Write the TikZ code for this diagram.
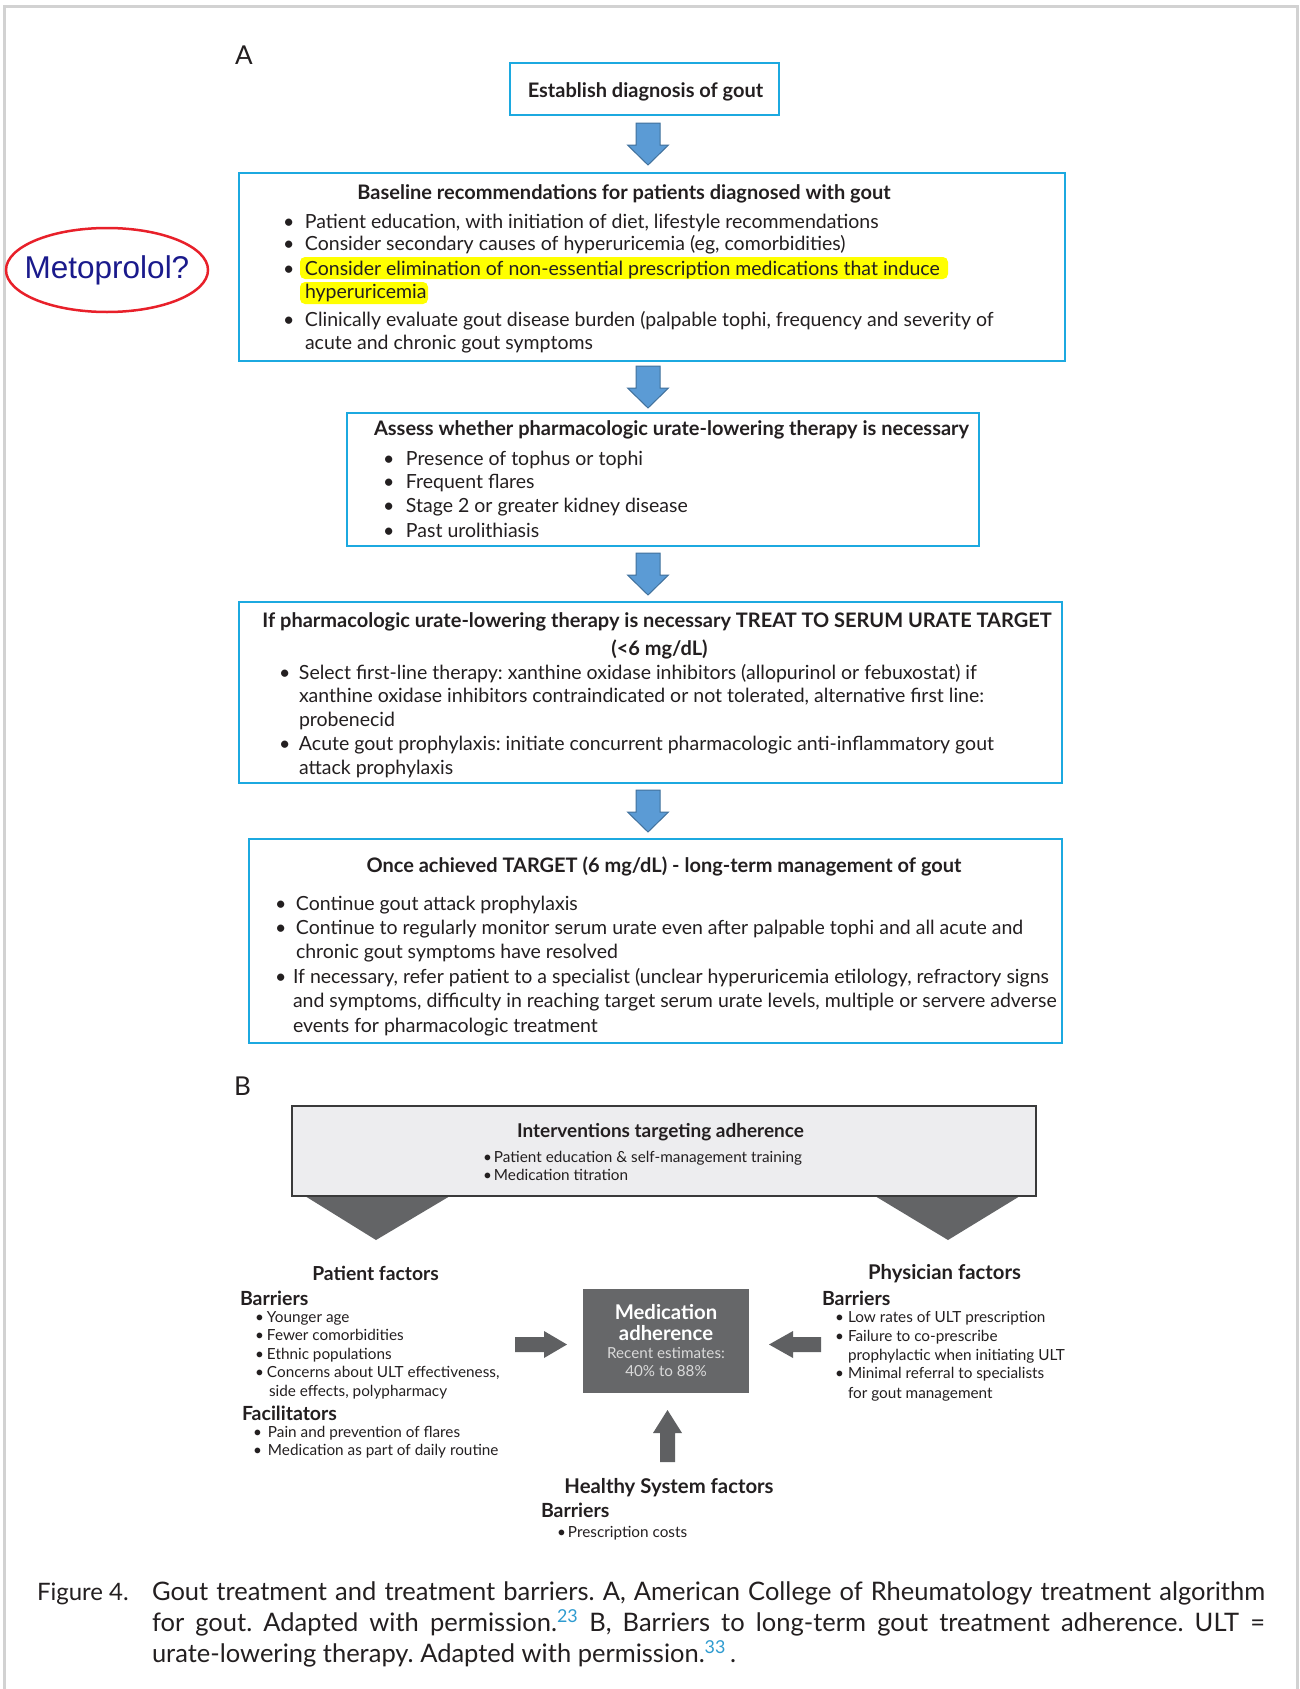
\documentclass[tikz,border=0pt]{standalone}
\usepackage{fontspec}
\setmainfont{Lato}
\newfontfamily\arialfont{Liberation Sans}
\usetikzlibrary{calc,shapes.geometric}
\definecolor{boxblue}{HTML}{1CA9E0}
\definecolor{arrfill}{HTML}{5B9BD5}
\definecolor{arrline}{HTML}{41719C}
\definecolor{framec}{HTML}{D2D2D2}
\definecolor{dgray}{HTML}{636466}
\definecolor{lgray}{HTML}{EDEDEF}
\definecolor{boxedge}{HTML}{3A3A3A}
\definecolor{medgray}{HTML}{666769}
\definecolor{garrowc}{HTML}{5F6062}
\definecolor{medtxt}{HTML}{DADADA}
\definecolor{navy}{HTML}{1A1A8C}
\definecolor{redring}{HTML}{E8202A}
\definecolor{capblue}{HTML}{2E9BD0}
\definecolor{hl}{HTML}{FFFF00}
\definecolor{txt}{HTML}{231F20}
\frenchspacing
\newcommand{\bu}[1]{\makebox[#1][l]{\textbullet}}
\newcommand{\ct}[1]{\hspace*{#1}}
\newcommand{\lst}[1]{\begin{tabular}[t]{@{}l@{}}#1\end{tabular}}
\newcommand{\blk}[2]{%
  \draw[blkarrow] let \p1=($(#1.south -| ax)!0.5!(#2.north -| ax)$) in
    (\x1-12pt,\y1+21pt) -- (\x1+12pt,\y1+21pt) -- (\x1+12pt,\y1-1pt) --
    (\x1+20.5pt,\y1-1pt) -- (\x1,\y1-21pt) -- (\x1-20.5pt,\y1-1pt) --
    (\x1-12pt,\y1-1pt) -- cycle;}
\begin{document}
\frenchspacing
\begin{tikzpicture}[x=1pt,y=-1pt,
  every node/.style={inner sep=0pt,outer sep=0pt,text=txt},
  abox/.style={draw=boxblue,line width=2.5pt,anchor=north west},
  atitle/.style={anchor=base,font=\fontsize{20}{24}\selectfont\bfseries},
  abody/.style={anchor=base west,font=\fontsize{19.5}{23.5}\selectfont},
  blkarrow/.style={fill=arrfill,draw=arrline,line width=1pt},
  bhead/.style={anchor=base,font=\fontsize{19.5}{21}\selectfont\bfseries},
  bsub/.style={anchor=base west,font=\fontsize{19.5}{21}\selectfont\bfseries},
  bbody/.style={anchor=base west,font=\fontsize{15.3}{18.5}\selectfont},
  garrow/.style={fill=garrowc},
  medt/.style={anchor=base,text=white,font=\fontsize{20.3}{21}\selectfont\bfseries},
  meds/.style={anchor=base,text=medtxt,font=\fontsize{15.2}{18}\selectfont},
  plabel/.style={anchor=base west,font=\fontsize{26}{26}\selectfont}]
\useasboundingbox (0,0) rectangle (1300,1689);
\fill[white] (0,0) rectangle (1300,1689);
\draw[framec,line width=3pt] (4,1689) -- (4,6) -- (1297,6) -- (1297,1689);
\coordinate (ax) at (648,0);

% ---------------- Part A ----------------
\node[plabel] (labA) at (235,64) {A};

\node[abox,minimum width=269pt,minimum height=52pt] (b1) at (510,63) {};
\node[abox,minimum width=826pt,minimum height=188pt] (b2) at (239,173) {};
\node[abox,minimum width=632pt,minimum height=133pt] (b3) at (347,413) {};
\node[abox,minimum width=823pt,minimum height=181pt] (b4) at (239,602) {};
\node[abox,minimum width=813pt,minimum height=204pt] (b5) at (249,839) {};

\blk{b1}{b2}
\blk{b2}{b3}
\blk{b3}{b4}
\blk{b4}{b5}

\node[atitle] (t1) at (645.5,97) {Establish diagnosis of gout};

\fill[hl,rounded corners=5pt] (300,257) rectangle (948,279);
\fill[hl,rounded corners=5pt] (300,282) rectangle (428,304);
\node[atitle] (t2) at (624,199) {Baseline recommendations for patients diagnosed with gout};
\node[abody] (l2) at (283,228) {\lst{%
\bu{22pt}Patient education, with initiation of diet, lifestyle recommendations\\[-1pt]
\bu{22pt}Consider secondary causes of hyperuricemia (eg, comorbidities)\\[1pt]
\bu{22pt}Consider elimination of non-essential prescription medications that induce\\
\ct{22pt}hyperuricemia\\[4pt]
\bu{22pt}Clinically evaluate gout disease burden (palpable tophi, frequency and severity of\\
\ct{22pt}acute and chronic gout symptoms}};

\node[text=navy,font=\arialfont\fontsize{31.5}{31.5}\selectfont] (meto) at (107,270) {Metoprolol?};
\draw[redring,line width=2.5pt] (meto.center) ellipse [x radius=101pt,y radius=42pt];

\node[atitle] (t3) at (671.5,435) {Assess whether pharmacologic urate-lowering therapy is necessary};
\node[abody] (l3) at (383,465) {\lst{%
\bu{23pt}Presence of tophus or tophi\\
\bu{23pt}Frequent flares\\
\bu{23pt}Stage 2 or greater kidney disease\\[2pt]
\bu{23pt}Past urolithiasis}};

\node[atitle] (t4a) at (657,627) {If pharmacologic urate-lowering therapy is necessary TREAT TO SERUM URATE TARGET};
\node[atitle] (t4b) at (659.5,655) {(<6 mg/dL)};
\node[abody] (l4) at (279,679) {\lst{%
\bu{20pt}Select first-line therapy: xanthine oxidase inhibitors (allopurinol or febuxostat) if\\
\ct{20pt}xanthine oxidase inhibitors contraindicated or not tolerated, alternative first line:\\
\ct{20pt}probenecid\\[1pt]
\bu{20pt}Acute gout prophylaxis: initiate concurrent pharmacologic anti-inflammatory gout\\
\ct{20pt}attack prophylaxis}};

\node[atitle] (t5) at (664,872) {Once achieved TARGET (6 mg/dL) - long-term management of gout};
\node[abody,font=\fontsize{19.5}{24.4}\selectfont] (l5) at (275,910) {\lst{%
\bu{21pt}Continue gout attack prophylaxis\\
\bu{21pt}Continue to regularly monitor serum urate even after palpable tophi and all acute and\\
\ct{21pt}chronic gout symptoms have resolved\\
\bu{18pt}If necessary, refer patient to a specialist (unclear hyperuricemia etilology, refractory signs\\
\ct{18pt}and symptoms, difficulty in reaching target serum urate levels, multiple or servere adverse\\
\ct{18pt}events for pharmacologic treatment}};

% ---------------- Part B ----------------
\node[plabel] (labB) at (234,1095) {B};

\node[draw=boxedge,fill=lgray,line width=1.5pt,anchor=north west,
  minimum width=744pt,minimum height=90pt] (intv) at (292,1106) {};
\fill[dgray] ($(intv.south west)+(13,0)$) -- ($(intv.south west)+(158,0)$) -- ($(intv.south west)+(84,44)$) -- cycle;
\fill[dgray] ($(intv.south east)+(-161,0)$) -- ($(intv.south east)+(-16,0)$) -- ($(intv.south east)+(-88,44)$) -- cycle;
\draw[boxedge,line width=1.5pt] (intv.south west) -- (intv.south east);
\node[bhead,font=\fontsize{19}{21}\selectfont\bfseries] (intvt) at (660.5,1137) {Interventions targeting adherence};
\node[bbody] (intvl) at (483,1162) {\lst{%
\bu{11pt}Patient education \& self-management training\\[-0.5pt]
\bu{11pt}Medication titration}};

\node[fill=medgray,anchor=north west,minimum width=166pt,minimum height=104pt] (med) at (583,1289) {};
\node[medt] (m1) at (666,1319) {Medication};
\node[medt] (m2) at (666,1340) {adherence};
\node[meds] (m3) at (666,1358) {Recent estimates:};
\node[meds] (m4) at (666,1376) {40\% to 88\%};

% patient factors
\node[bhead,font=\fontsize{19.3}{21}\selectfont\bfseries] (pf) at (375.5,1280) {Patient factors};
\node[bsub] (pfb) at (240,1305) {Barriers};
\node[bbody] (pfl) at (255,1322) {\lst{%
\bu{12pt}Younger age\\
\bu{12pt}Fewer comorbidities\\
\bu{12pt}Ethnic populations\\
\bu{12pt}Concerns about ULT effectiveness,\\
\ct{14pt}side effects, polypharmacy}};
\node[bsub] (pff) at (242,1420) {Facilitators};
\node[bbody] (pffl) at (253,1437) {\lst{%
\bu{15pt}Pain and prevention of flares\\
\bu{15pt}Medication as part of daily routine}};

% physician factors
\node[bhead,font=\fontsize{20.3}{21}\selectfont\bfseries] (phf) at (944.5,1279) {Physician factors};
\node[bsub] (phb) at (822,1305) {Barriers};
\node[bbody] (phl) at (835,1322) {\lst{%
\bu{13pt}Low rates of ULT prescription\\[1pt]
\bu{13pt}Failure to co-prescribe\\
\ct{13pt}prophylactic when initiating ULT\\
\bu{13pt}Minimal referral to specialists\\[1pt]
\ct{13pt}for gout management}};

% health system factors
\node[bhead,font=\fontsize{20.3}{21}\selectfont\bfseries] (hsf) at (669,1493) {Healthy System factors};
\node[bsub] (hsb) at (541,1517) {Barriers};
\node[bbody] (hsl) at (557,1537) {\bu{11pt}Prescription costs};

% arrows to medication adherence
\fill[garrowc] ($(med.west)+(-68,-4)$) -- ($(med.west)+(-39,-4)$) -- ($(med.west)+(-39,-10)$) --
  ($(med.west)+(-16,3.5)$) -- ($(med.west)+(-39,17)$) -- ($(med.west)+(-39,11)$) --
  ($(med.west)+(-68,11)$) -- cycle;
\fill[garrowc] ($(med.east)+(72,-4)$) -- ($(med.east)+(44,-4)$) -- ($(med.east)+(44,-10)$) --
  ($(med.east)+(20,3.5)$) -- ($(med.east)+(44,17)$) -- ($(med.east)+(44,11)$) --
  ($(med.east)+(72,11)$) -- cycle;
\fill[garrowc] ($(med.south)+(-6,69)$) -- ($(med.south)+(-6,40)$) -- ($(med.south)+(-13,40)$) --
  ($(med.south)+(1.5,17)$) -- ($(med.south)+(16,40)$) -- ($(med.south)+(9,40)$) --
  ($(med.south)+(9,69)$) -- cycle;

% ---------------- Caption ----------------
\node[anchor=base west,font=\fontsize{24}{31}\selectfont] (figlab) at (37,1600) {Figure 4.};
\node[anchor=base west,font=\fontsize{25.5}{31}\selectfont] (cap) at (152,1600) {\lst{%
\makebox[1113pt][s]{Gout treatment and treatment barriers. A, American College of Rheumatology treatment algorithm}\\
\makebox[1113pt][s]{for gout. Adapted with permission.\textsuperscript{\textcolor{capblue}{23}} B, Barriers to long-term gout treatment adherence. ULT =}\\
urate-lowering therapy. Adapted with permission.\textsuperscript{\textcolor{capblue}{33}}\,.}};
\end{tikzpicture}
\end{document}
